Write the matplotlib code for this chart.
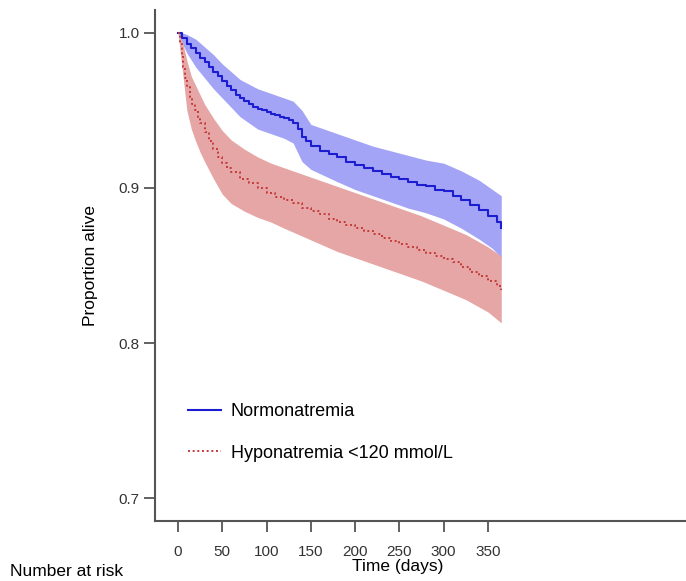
import matplotlib
matplotlib.use("Agg")
import matplotlib.pyplot as plt

plt.rcParams['font.family'] = ['Liberation Sans', 'DejaVu Sans']

# Kaplan-Meier estimates (days, proportion alive)
t_norm = [0, 5, 10, 15, 20, 25, 30, 35, 40, 45, 50, 55, 60, 65, 70, 75, 80, 85, 90, 95,
          100, 105, 110, 115, 120, 125, 130, 135, 140, 145, 150, 160, 170, 180, 190, 200,
          210, 220, 230, 240, 250, 260, 270, 280, 290, 300, 310, 320, 330, 340, 350, 360, 365]
s_norm = [1.000, 0.997, 0.993, 0.990, 0.987, 0.984, 0.981, 0.978, 0.975, 0.972, 0.969, 0.966,
          0.963, 0.960, 0.958, 0.956, 0.954, 0.952, 0.951, 0.950, 0.949, 0.948, 0.947, 0.946,
          0.945, 0.944, 0.942, 0.938, 0.933, 0.930, 0.927, 0.924, 0.922, 0.920, 0.917, 0.915,
          0.913, 0.911, 0.909, 0.907, 0.906, 0.904, 0.902, 0.901, 0.899, 0.898, 0.895, 0.892,
          0.889, 0.886, 0.882, 0.878, 0.874]

t_ci_norm = [0, 5, 10, 20, 30, 40, 50, 60, 70, 80, 90, 100, 110, 120, 130, 140, 150, 165,
             180, 200, 220, 240, 260, 280, 300, 320, 340, 355, 365]
norm_hi = [1.000, 1.000, 0.999, 0.996, 0.991, 0.986, 0.980, 0.975, 0.970, 0.967, 0.964, 0.962,
           0.960, 0.958, 0.956, 0.950, 0.941, 0.938, 0.935, 0.931, 0.927, 0.924, 0.921, 0.918,
           0.916, 0.911, 0.905, 0.899, 0.895]
norm_lo = [1.000, 0.993, 0.987, 0.978, 0.971, 0.964, 0.958, 0.952, 0.946, 0.942, 0.938, 0.936,
           0.934, 0.932, 0.929, 0.917, 0.912, 0.908, 0.904, 0.899, 0.895, 0.891, 0.887, 0.884,
           0.880, 0.874, 0.867, 0.861, 0.855]

t_hypo = [0, 2, 4, 6, 8, 10, 13, 16, 19, 22, 25, 30, 35, 40, 45, 50, 55, 60, 70, 80, 90, 100,
          110, 120, 130, 140, 150, 160, 170, 180, 190, 200, 210, 220, 230, 240, 250, 260, 270,
          280, 290, 300, 310, 320, 330, 340, 350, 360, 365]
s_hypo = [1.000, 0.993, 0.985, 0.978, 0.971, 0.965, 0.959, 0.954, 0.950, 0.946, 0.942, 0.936,
          0.930, 0.925, 0.920, 0.916, 0.913, 0.910, 0.906, 0.903, 0.900, 0.897, 0.894, 0.892,
          0.890, 0.887, 0.885, 0.883, 0.880, 0.878, 0.876, 0.874, 0.872, 0.870, 0.868, 0.866,
          0.864, 0.862, 0.860, 0.858, 0.856, 0.854, 0.852, 0.849, 0.846, 0.843, 0.840, 0.837, 0.834]

t_ci_hypo = [0, 3, 6, 10, 15, 20, 25, 30, 40, 50, 60, 75, 90, 105, 120, 140, 160, 180, 200,
             225, 250, 275, 300, 325, 350, 365]
hypo_hi = [1.000, 0.997, 0.992, 0.982, 0.972, 0.966, 0.960, 0.954, 0.945, 0.937, 0.931, 0.925,
           0.920, 0.916, 0.913, 0.909, 0.905, 0.901, 0.897, 0.892, 0.887, 0.882, 0.876, 0.870,
           0.862, 0.856]
hypo_lo = [1.000, 0.985, 0.970, 0.950, 0.938, 0.930, 0.923, 0.917, 0.906, 0.896, 0.890, 0.885,
           0.881, 0.878, 0.874, 0.869, 0.864, 0.859, 0.855, 0.850, 0.845, 0.840, 0.834, 0.828,
           0.820, 0.813]

labels = ["Normonatremia", "Hyponatremia <120 mmol/L"]
x_ticks = [0, 50, 100, 150, 200, 250, 300, 350]
y_ticks = [0.7, 0.8, 0.9, 1.0]

fig = plt.figure(figsize=(6.86, 5.81), dpi=100)
ax = fig.add_axes([155 / 686, 60 / 581, 531 / 686, 511 / 581])

# bands drawn as smooth outlines, curves as steps
ax.fill_between(t_ci_norm, norm_lo, norm_hi, color="#a4a4f7", lw=0)
ax.fill_between(t_ci_hypo, hypo_lo, hypo_hi, color="#e6a6a6", lw=0)
ax.plot(t_norm, s_norm, drawstyle="steps-post", color="#1c1cd0", lw=1.5, label=labels[0])
ax.plot(t_hypo, s_hypo, drawstyle="steps-post", color="#c43a3a", lw=1.4,
        linestyle=(0, (1, 1.4)), label=labels[1])

ax.set_xlim(-26, 573.6)
ax.set_ylim(0.6852, 1.0148)
ax.set_xticks(x_ticks)
ax.set_yticks(y_ticks)
ax.set_yticklabels([f"{v:.1f}" for v in y_ticks])

for side in ["top", "right"]:
    ax.spines[side].set_visible(False)
for side in ["left", "bottom"]:
    ax.spines[side].set_color("#555555")
    ax.spines[side].set_linewidth(1.5)
ax.tick_params(direction="out", length=8, width=1.3, color="#555555",
               labelsize=11, labelcolor="#333333")
ax.tick_params(axis="x", pad=9)
ax.tick_params(axis="y", pad=3)

ax.set_ylabel("Proportion alive", fontsize=12.5, labelpad=15)
fig.text(398 / 686, 1 - 566 / 581, "Time (days)", fontsize=12.5, ha="center", va="center")
fig.text(10 / 686, 1 - 572 / 581, "Number at risk", fontsize=12.5, ha="left", va="center")

ax.legend(loc="upper left", bbox_to_anchor=(172 / 686, 1 - 387 / 581),
          bbox_transform=fig.transFigure, frameon=False, fontsize=13,
          handlelength=1.8, handletextpad=0.55, labelspacing=1.35)

fig.savefig("out.png", dpi=100)
